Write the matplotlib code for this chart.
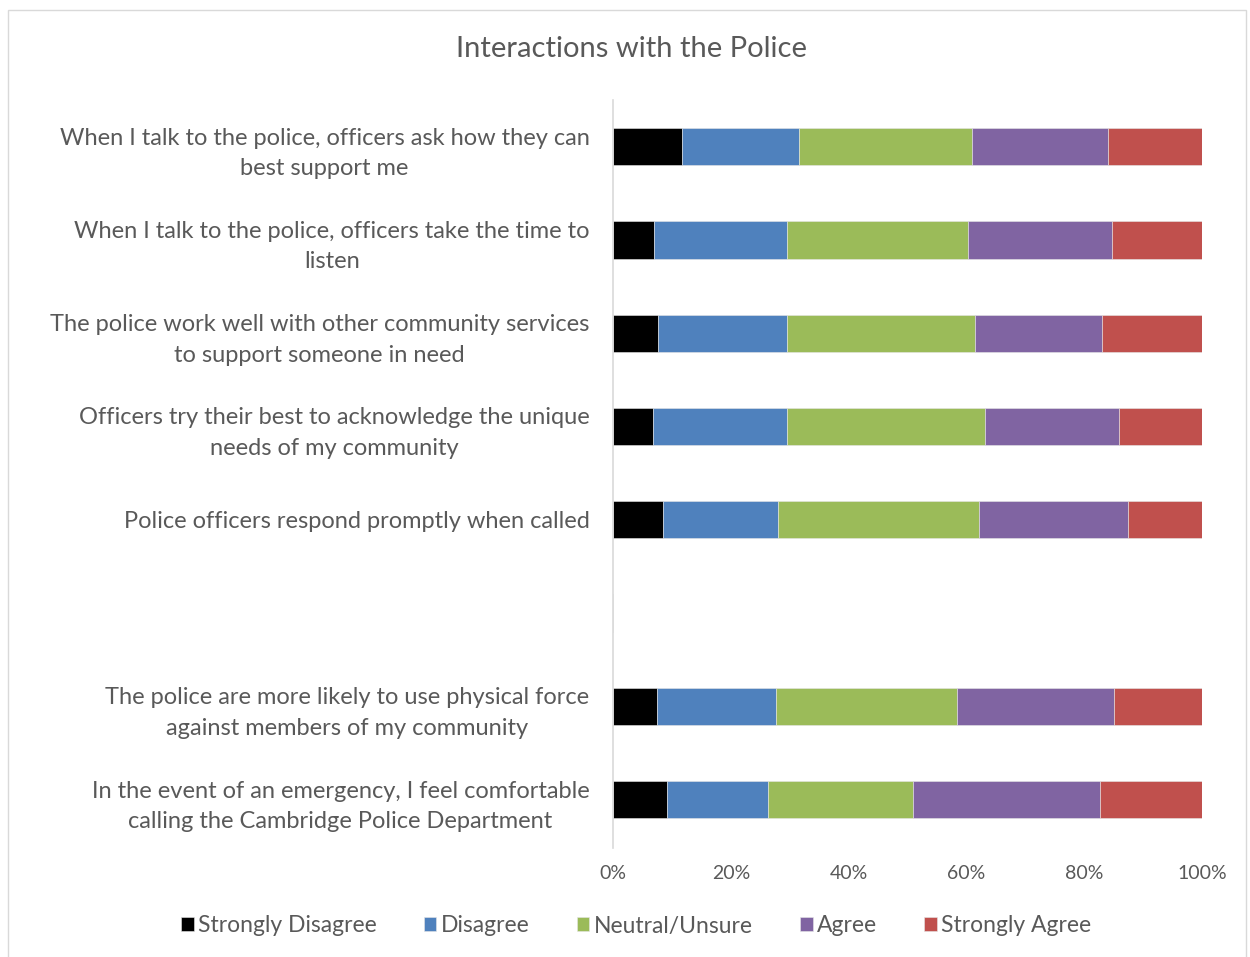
import numpy as np
import matplotlib
matplotlib.use("Agg")
import matplotlib.pyplot as plt
from matplotlib.patches import Rectangle

plt.rcParams['font.family'] = ['Lato', 'DejaVu Sans']

statements = [
    "When I talk to the police, officers ask how they can\nbest support me",
    "When I talk to the police, officers take the time to\nlisten",
    "The police work well with other community services\nto support someone in need",
    "Officers try their best to acknowledge the unique\nneeds of my community",
    "Police officers respond promptly when called",
    "",
    "The police are more likely to use physical force\nagainst members of my community",
    "In the event of an emergency, I feel comfortable\ncalling the Cambridge Police Department",
]
levels = ["Strongly Disagree", "Disagree", "Neutral/Unsure", "Agree", "Strongly Agree"]
colors = ["#000000", "#4F81BD", "#9BBB59", "#8064A2", "#C0504D"]

# shares in percent, one list per response level (blank row has no data)
strongly_disagree = [11.7, 7.0, 7.7, 6.8, 8.5, 0, 7.4, 9.2]
disagree          = [19.9, 22.6, 21.9, 22.8, 19.5, 0, 20.2, 17.1]
neutral           = [29.4, 30.6, 31.8, 33.5, 34.2, 0, 30.8, 24.6]
agree             = [23.0, 24.5, 21.7, 22.8, 25.3, 0, 26.7, 31.8]
strongly_agree    = [16.0, 15.3, 16.9, 14.1, 12.5, 0, 14.9, 17.3]

series = [strongly_disagree, disagree, neutral, agree, strongly_agree]
txt = "#595959"

fig = plt.figure(figsize=(12.5, 9.57), dpi=100)
fig.patches.append(Rectangle((0.0065, -0.01), 0.99, 1.0, transform=fig.transFigure,
                             fill=False, edgecolor="#D9D9D9", linewidth=1))
ax = fig.add_axes([613 / 1250, 1 - 848 / 957, 589 / 1250, (848 - 100) / 957])

y = np.arange(len(statements))
left = np.zeros(len(statements))
for vals, name, col in zip(series, levels, colors):
    vals = np.array(vals, dtype=float)
    ax.barh(y, vals, left=left, height=0.4, color=col, label=name,
            edgecolor="#E6E6E6", linewidth=0.4)
    left += vals

ax.set_xlim(0, 100)
ax.set_ylim(len(statements) - 0.5 + 0.02, -0.5)
ax.set_yticks(y)
ax.set_yticklabels(statements, fontsize=17, color=txt, multialignment="center",
                   linespacing=1.55)
ax.set_xticks(np.arange(0, 101, 20))
ax.set_xticklabels([f"{v}%" for v in range(0, 101, 20)], fontsize=14, color=txt)
ax.tick_params(axis="y", length=0, pad=17)
ax.tick_params(axis="x", length=0, pad=12)
for s in ["top", "right", "bottom"]:
    ax.spines[s].set_visible(False)
ax.spines["left"].set_color("#D9D9D9")
ax.spines["left"].set_linewidth(1.2)

fig.text(0.505, 1 - 49 / 957, "Interactions with the Police", ha="center", va="center",
         fontsize=21, color=txt)

leg = fig.legend(loc="center", bbox_to_anchor=(0.509, 1 - 926 / 957), ncol=5,
                 frameon=False, fontsize=16.5, handlelength=0.55, handleheight=0.55,
                 handletextpad=0.2, columnspacing=2.05)
for t in leg.get_texts():
    t.set_color(txt)

fig.savefig("out.png", dpi=100)
